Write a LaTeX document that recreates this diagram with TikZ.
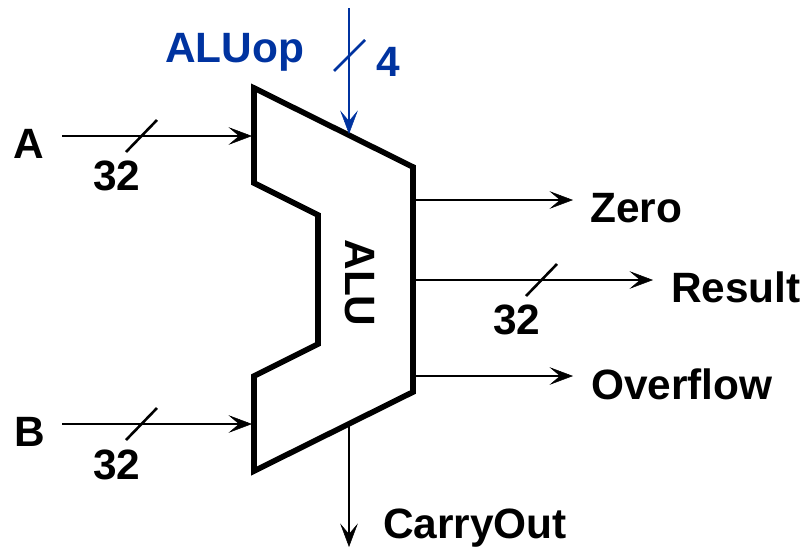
\documentclass[tikz,border=0pt]{standalone}
\usepackage{fontspec}
\setmainfont{Liberation Sans}
\usepackage{xcolor}
\usetikzlibrary{arrows.meta}
\definecolor{opblue}{RGB}{0,51,160}
\tikzset{
 lbl/.style={font=\fontsize{42.4}{42.4}\selectfont\bfseries, inner sep=0pt, anchor=base west},
 wire/.style={line width=2.6pt, arrows={-Stealth[inset=6.5pt,line width=0.5pt,scale=1.6]}},
 tick/.style={line width=2.6pt},
 alubox/.style={line width=5.6pt, line join=miter}
}
\begin{document}
\begin{tikzpicture}[x=1pt,y=-1pt]
\useasboundingbox (0,0) rectangle (805,547);
\draw[alubox] (254,88) coordinate (topl) -- (413,167) coordinate (topr) -- (413,392) coordinate (botr) -- (254,471) coordinate (botl) -- (254,376) -- (318,344) -- (318,215) -- (254,183) -- cycle;
\node[lbl, anchor=center, rotate=-90] (alu) at (360,283) {ALU};
\node[lbl] (a) at (13,158) {A};
\node[lbl] (b) at (14,446) {B};
\node[lbl] (zero) at (590,222) {Zero};
\node[lbl] (result) at (671,302) {Result};
\node[lbl] (overflow) at (591,399) {Overflow};
\node[lbl] (carryout) at (383,538) {CarryOut};
\node[lbl, text=opblue] (aluop) at (165,62) {ALUop};
\node[lbl, text=opblue] (four) at (376,76) {4};
\node[lbl] (widtha) at (93,190) {32};
\node[lbl] (widthb) at (93,479) {32};
\node[lbl] (widthr) at (493,334) {32};
\coordinate (ina) at (62,136);
\coordinate (inb) at (62,424);
\coordinate (ena) at (252,136);
\coordinate (enb) at (252,424);
\coordinate (stz) at (413,200);
\coordinate (enz) at (573,200);
\coordinate (str) at (413,280);
\coordinate (enr) at (653,280);
\coordinate (sto) at (413,376);
\coordinate (eno) at (573,376);
\coordinate (stc) at (349,425);
\coordinate (enc) at (349,547);
\coordinate (sop) at (349,8);
\coordinate (eop) at (349,134);
\draw[wire] (ina) -- (ena);
\draw[wire] (inb) -- (enb);
\draw[wire] (stz) -- (enz);
\draw[wire] (str) -- (enr);
\draw[wire] (sto) -- (eno);
\draw[wire] (stc) -- (enc);
\draw[wire, opblue] (sop) -- (eop);
\draw[tick] (126,152) -- (157,120);
\draw[tick] (126,440) -- (157,408);
\draw[tick] (526,296) -- (557,264);
\draw[tick, opblue] (334,71) -- (365,40);
\end{tikzpicture}
\end{document}
